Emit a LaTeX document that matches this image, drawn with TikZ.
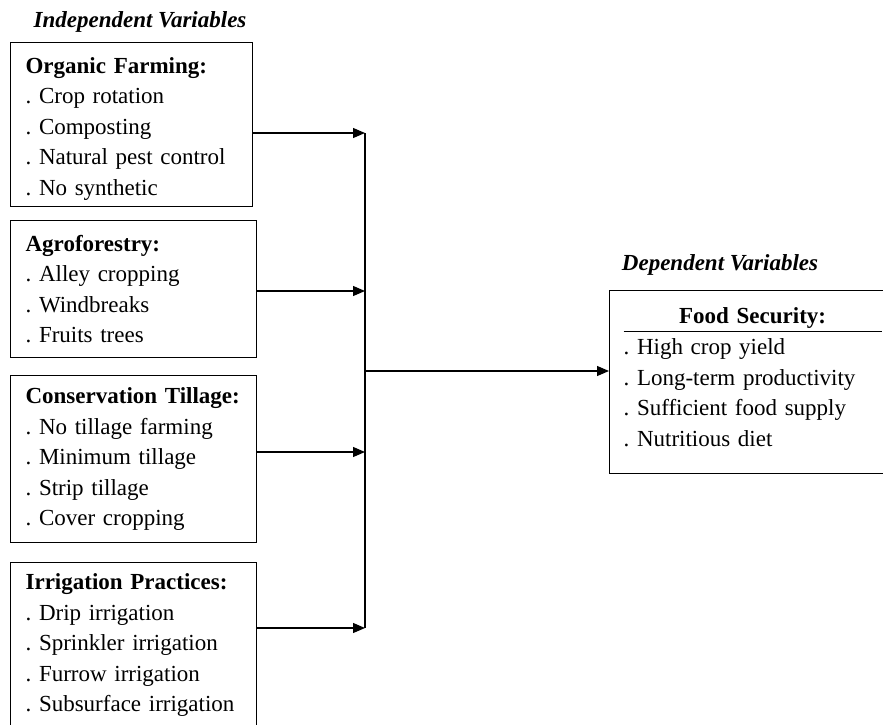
\documentclass[tikz,border=0pt]{standalone}
\usepackage{fontspec}
\setmainfont{Liberation Serif}
\usetikzlibrary{positioning, arrows.meta}

\begin{document}
\frenchspacing
\begin{tikzpicture}[x=1pt, y=-1pt,
  var box/.style={draw, line width=1.2pt, anchor=north west, text width=216pt,
    inner xsep=15pt, align=left, font=\fontsize{23}{30.5}\selectfont},
  head/.style={font=\fontsize{23}{28}\selectfont\bfseries\itshape},
  link/.style={line width=1.2pt, -{Triangle[length=12pt,width=10pt]}}]

\useasboundingbox (0,0) rectangle (883,725);

\node[head] (ind) at (140,22) {Independent Variables};
\node[head] (dep) at (720,265) {Dependent Variables};

\node[var box, text width=212pt, minimum height=164pt] (org) at (10,42)
  {\rule{0pt}{24pt}\textbf{Organic Farming:}\\ . Crop rotation\\ . Composting\\ . Natural pest control\\ . No synthetic};
\node[var box, minimum height=137pt] (agro) at (10,220)
  {\textbf{Agroforestry:}\\ . Alley cropping\\ . Windbreaks\\ . Fruits trees};
\node[var box, minimum height=167pt] (till) at (10,375)
  {\textbf{Conservation Tillage:}\\ . No tillage farming\\ . Minimum tillage\\ . Strip tillage\\ . Cover cropping};
\node[var box, minimum height=165pt] (irr) at (10,562)
  {\textbf{Irrigation Practices:}\\ . Drip irrigation\\ . Sprinkler irrigation\\ . Furrow irrigation\\ . Subsurface irrigation};

\node[var box, text width=258pt, inner xsep=14pt, minimum height=183pt] (fsec) at (609,290)
  {{\centering\textbf{Food Security:}\par}\vspace{2pt}\hrule height 1.2pt\vspace{7pt}
   . High crop yield\\ . Long-term productivity\\ . Sufficient food supply\\ . Nutritious diet\rule[-10pt]{0pt}{10pt}};

\coordinate (t1) at (365,133);
\coordinate (t2) at (365,291);
\coordinate (t3) at (365,452);
\coordinate (t4) at (365,628);
\coordinate (tm) at (365,371);

\draw[line width=1.2pt] (t1) -- (t4);
\draw[link] (org.east |- t1) -- (t1);
\draw[link] (agro.east |- t2) -- (t2);
\draw[link] (till.east |- t3) -- (t3);
\draw[link] (irr.east |- t4) -- (t4);
\draw[link] (tm) -- (fsec.west |- tm);

\end{tikzpicture}
\end{document}
